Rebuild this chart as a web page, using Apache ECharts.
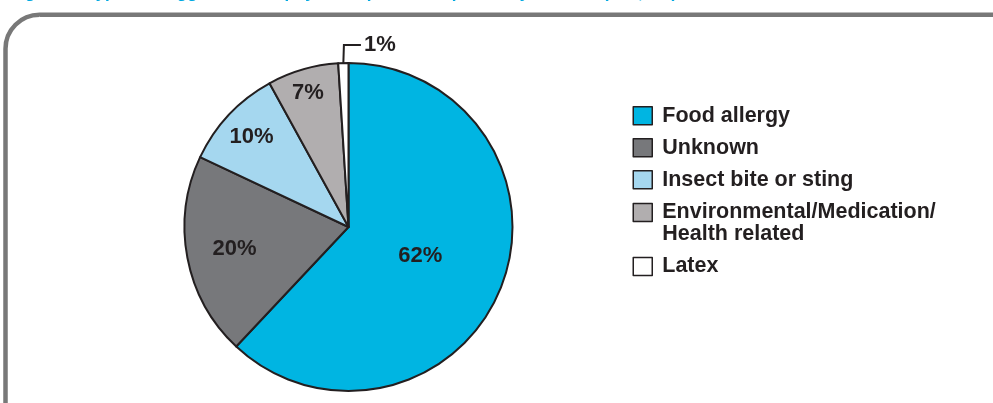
<!DOCTYPE html>
<html>
<head>
<meta charset="utf-8">
<script src="https://cdn.jsdelivr.net/npm/echarts@6/dist/echarts.min.js"></script>
<style>
  html, body { margin: 0; padding: 0; background: #ffffff; }
  #chart { width: 993px; height: 403px; }
</style>
</head>
<body>
<div id="chart"></div>
<script>
// Trigger categories and their share of reported episodes (%)
const categories = [
  'Food allergy',
  'Unknown',
  'Insect bite or sting',
  'Environmental/Medication/\nHealth related',
  'Latex'
];
const shares = [62, 20, 10, 7, 1];
const sliceColors = ['#00b5e2', '#77787b', '#a5d7ef', '#b1aeaf', '#ffffff'];
const titleText = 'Figure 2: Types of triggers for anaphylaxis episodes reported by schools (n=1,284)';

// Styling / layout
const FONT = '"Liberation Sans", Arial, Helvetica, sans-serif';
const INK = '#231f20';
const CX = 348.5, CY = 227, R = 164;
// distance of each inside label from the centre, as a fraction of the radius
const labelRadius = [0.462, 0.68, 0.78, 0.835];

const total = shares.reduce((a, b) => a + b, 0);
// mid angle of every slice, clockwise from 12 o'clock (radians)
const midAngles = [];
shares.reduce((acc, v) => {
  midAngles.push((acc + v / 2) / total * Math.PI * 2);
  return acc + v;
}, 0);

// shared legend look; the key is split in three blocks so the two-line
// entry keeps its swatch level with its first line
function legendBlock(names, top, formatter) {
  return {
    orient: 'vertical',
    left: 632.5,
    top: top,
    padding: 0,
    itemWidth: 19,
    itemHeight: 18,
    itemGap: 10,
    selectedMode: false,
    icon: 'rect',
    itemStyle: { borderColor: INK, borderWidth: 1.5 },
    formatter: formatter || '{name}',
    textStyle: {
      fontFamily: FONT,
      fontSize: 21.5,
      fontWeight: 'bold',
      color: INK,
      lineHeight: 22,
      padding: [0, 0, 0, 5]
    },
    data: names
  };
}

const chart = echarts.init(document.getElementById('chart'), null, { renderer: 'canvas' });

chart.setOption({
  animation: false,
  backgroundColor: '#ffffff',
  graphic: [
    {
      type: 'rect',
      z: -10,
      shape: { x: 5.5, y: 14.8, width: 1300, height: 700, r: 34 },
      style: { fill: 'none', stroke: '#787878', lineWidth: 4.5 }
    },
    {
      type: 'text',
      x: 10,
      y: -15.3,
      style: { text: titleText, fill: '#00a8e1', font: 'bold 17px ' + FONT }
    }
  ],
  legend: [
    legendBlock(categories.slice(0, 3), 104.8),
    legendBlock(categories.slice(3, 4), 179.5, '\n{name}'),
    legendBlock(categories.slice(4), 255.4)
  ],
  series: [{
    type: 'pie',
    center: [CX, CY],
    radius: R,
    startAngle: 90,
    clockwise: true,
    avoidLabelOverlap: false,
    silent: true,
    itemStyle: { borderColor: INK, borderWidth: 2 },
    label: {
      position: 'inside',
      formatter: '{c}%',
      fontFamily: FONT,
      fontSize: 22,
      fontWeight: 'bold',
      color: INK
    },
    labelLine: { show: false },
    data: categories.map((name, i) => {
      const item = { name: name, value: shares[i], itemStyle: { color: sliceColors[i] } };
      if (i === 4) {
        item.label = { position: 'outside' };
        item.labelLine = {
          show: true, length: 18, length2: 17, smooth: false,
          lineStyle: { color: INK, width: 2 }
        };
      }
      return item;
    }),
    labelLayout: function (p) {
      const i = p.dataIndex;
      if (i < labelRadius.length) {
        const a = midAngles[i];
        const shift = (labelRadius[i] - 0.5) * R;
        const lr = p.labelRect;
        return {
          x: lr.x + lr.width / 2 + shift * Math.sin(a) - 1.5,
          y: lr.y + lr.height / 2 - shift * Math.cos(a),
          align: 'center',
          verticalAlign: 'middle'
        };
      }
      // thin slice: leader runs up, then turns right
      const pts = p.labelLinePoints;
      if (!pts || pts.length < 3) return {};
      const p0 = pts[0];
      const elbow = [p0[0] + Math.abs(pts[1][0] - p0[0]), pts[1][1]];
      const end = [elbow[0] + Math.abs(pts[2][0] - pts[1][0]), elbow[1]];
      return {
        x: end[0] + 3,
        y: end[1],
        align: 'left',
        verticalAlign: 'middle',
        labelLinePoints: [p0, elbow, end]
      };
    }
  }]
});
</script>
</body>
</html>
